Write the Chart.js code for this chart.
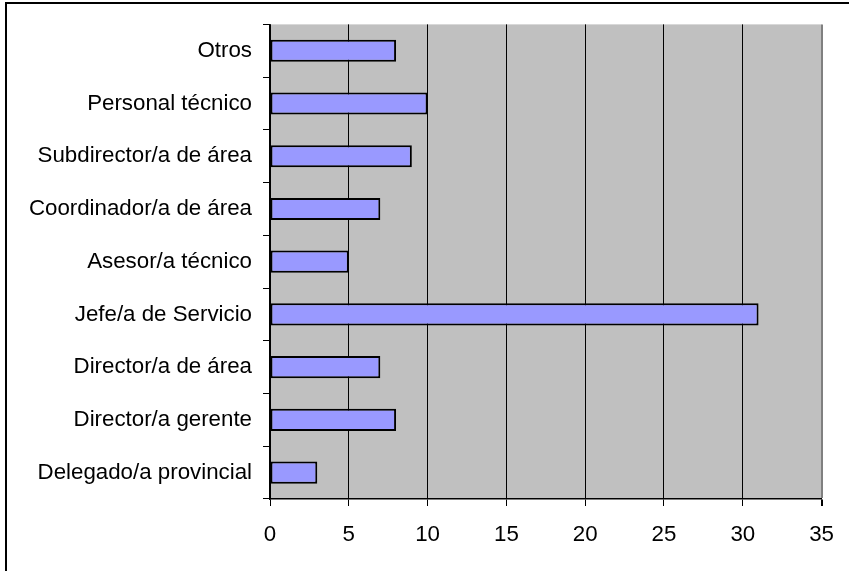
<!DOCTYPE html>
<html>
<head>
<meta charset="utf-8">
<script src="https://cdn.jsdelivr.net/npm/chart.js@4"></script>
<style>
  html, body { margin: 0; padding: 0; background: #ffffff; }
  #wrap { position: relative; width: 849px; height: 571px; overflow: hidden; }
  canvas { display: block; }
</style>
</head>
<body>
<div id="wrap"><canvas id="c" width="849" height="571"></canvas></div>
<script>
const categories = [
  'Otros',
  'Personal técnico',
  'Subdirector/a de área',
  'Coordinador/a de área',
  'Asesor/a técnico',
  'Jefe/a de Servicio',
  'Director/a de área',
  'Director/a gerente',
  'Delegado/a provincial'
];
const values = [8, 10, 9, 7, 5, 31, 7, 8, 3];
const xTicks = [0, 5, 10, 15, 20, 25, 30, 35];

const FONT = 'Liberation Sans, Arial, sans-serif';

const frame = {
  id: 'frame',
  beforeDraw(chart) {
    const ctx = chart.ctx;
    const a = chart.chartArea;
    ctx.save();
    ctx.fillStyle = '#ffffff';
    ctx.fillRect(0, 0, chart.width, chart.height);
    ctx.fillStyle = '#c0c0c0';
    ctx.fillRect(a.left, a.top, a.right - a.left, a.bottom - a.top);
    // outer border (left + top)
    ctx.strokeStyle = '#000000';
    ctx.lineWidth = 2;
    ctx.beginPath();
    ctx.moveTo(6, chart.height + 5);
    ctx.lineTo(6, 3);
    ctx.lineTo(chart.width + 5, 3);
    ctx.stroke();
    ctx.restore();
  }
};

new Chart(document.getElementById('c'), {
  type: 'bar',
  data: {
    labels: categories,
    datasets: [{
      data: values,
      backgroundColor: '#9999ff',
      borderColor: '#000000',
      borderWidth: 2,
      borderSkipped: false,
      barPercentage: 0.42,
      categoryPercentage: 1.0
    }]
  },
  plugins: [frame],
  options: {
    indexAxis: 'y',
    responsive: false,
    devicePixelRatio: 1,
    animation: false,
    layout: { padding: { left: 0, top: 20, right: 23, bottom: 0 } },
    plugins: {
      legend: { display: false },
      tooltip: { enabled: false }
    },
    scales: {
      x: {
        min: 0,
        max: 35,
        afterBuildTicks(scale) { scale.ticks = xTicks.map(v => ({ value: v })); },
        afterFit(scale) { scale.height = 72; },
        ticks: {
          color: '#000000',
          font: { family: FONT, size: 22.3 },
          padding: 15,
          maxRotation: 0
        },
        grid: {
          color: (c) => (c.tick && c.tick.value === 35) ? '#808080' : '#000000',
          lineWidth: (c) => (c.tick && c.tick.value === 35) ? 2 : 1,
          tickColor: '#000000',
          tickLength: 7,
          drawOnChartArea: true
        },
        border: { display: true, color: '#000000', width: 1.5 }
      },
      y: {
        afterFit(scale) { scale.width = 270; },
        ticks: {
          color: '#000000',
          font: { family: FONT, size: 22.3 },
          padding: 11
        },
        grid: {
          drawOnChartArea: false,
          offset: true,
          tickColor: '#000000',
          tickLength: 7
        },
        border: { display: true, color: '#000000', width: 1.5 }
      }
    }
  }
});
</script>
</body>
</html>
